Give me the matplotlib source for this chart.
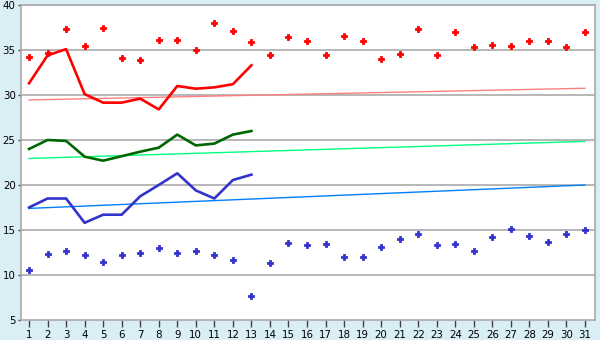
import numpy as np
import matplotlib
matplotlib.use("Agg")
import matplotlib.pyplot as plt

days = list(range(1, 32))
days_line = list(range(1, 14))

# upper / lower scatter (red / blue)
high_pts = [34.2, 34.7, 37.3, 35.4, 37.5, 34.1, 33.9, 36.1, 36.1, 35.0,
            38.0, 37.1, 35.9, 34.5, 36.4, 36.0, 34.4, 36.6, 36.0, 34.0,
            34.6, 37.3, 34.4, 37.0, 35.3, 35.6, 35.4, 36.0, 36.0, 35.3, 37.0]
low_pts = [10.6, 12.3, 12.7, 12.2, 11.5, 12.2, 12.5, 13.0, 12.4, 12.7,
           12.2, 11.7, 7.7, 11.3, 13.6, 13.3, 13.4, 12.0, 12.0, 13.1,
           14.0, 14.6, 13.3, 13.5, 12.7, 14.2, 15.1, 14.3, 13.7, 14.6, 15.0]

# lines for the first 13 days
red_line = [31.3, 34.4, 35.1, 30.1, 29.15, 29.15, 29.6, 28.4, 31.0, 30.7, 30.85, 31.2, 33.3]
green_line = [24.0, 25.0, 24.9, 23.15, 22.7, 23.2, 23.7, 24.15, 25.6, 24.4, 24.6, 25.6, 26.0]
blue_line = [17.5, 18.5, 18.5, 15.8, 16.7, 16.7, 18.75, 20.0, 21.3, 19.4, 18.5, 20.55, 21.15]

# trend lines (start, end)
trend_days = [1, 31]
red_trend = [29.45, 30.75]
green_trend = [22.95, 24.85]
blue_trend = [17.4, 20.0]

bg = "#daeef5"
fig = plt.figure(figsize=(6, 3.4), dpi=100, facecolor=bg)
ax = fig.add_axes([20.5/600, 1-320/340, (595-20.5)/600, 315/340])
ax.set_facecolor("white")

for y in range(10, 41, 5):
    ax.axhline(y, color="#aaaaaa", lw=1.2, zorder=0)

ax.plot(trend_days, red_trend, color="#ff7f7f", lw=1.0, zorder=1)
ax.plot(trend_days, green_trend, color="#00ff80", lw=1.0, zorder=1)
ax.plot(trend_days, blue_trend, color="#0080ff", lw=1.0, zorder=1)

ax.plot(days_line, red_line, color="#ff0000", lw=1.9, zorder=2)
ax.plot(days_line, green_line, color="#006600", lw=1.9, zorder=2)
ax.plot(days_line, blue_line, color="#3333cc", lw=1.9, zorder=2)

ax.plot(days, high_pts, ls="none", marker="P", ms=5.0, color="#ff0000", mec="#ff0000", mew=0.6, zorder=3)
ax.plot(days, low_pts, ls="none", marker="P", ms=5.0, color="#3333cc", mec="#3333cc", mew=0.6, zorder=3)

ax.set_xlim(0.54, 31.54)
ax.set_ylim(5, 40)
ax.set_xticks(days)
ax.set_yticks(range(5, 41, 5))
for s in ax.spines.values():
    s.set_color("#aaaaaa")
    s.set_linewidth(1.2)
ax.tick_params(axis="both", colors="#444444", labelcolor="black", labelsize=7.4, width=1)
ax.tick_params(axis="x", length=5, pad=2)
ax.tick_params(axis="y", length=2.5, pad=1)

fig.savefig("out.png", dpi=100, facecolor=bg)
